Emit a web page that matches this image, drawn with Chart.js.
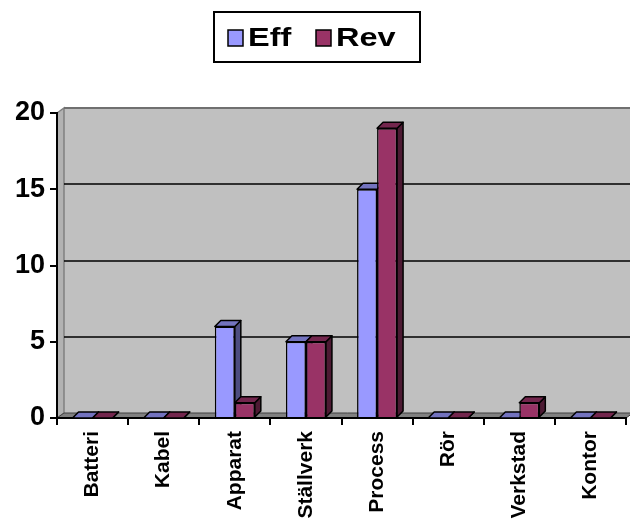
<!DOCTYPE html>
<html>
<head>
<meta charset="utf-8">
<script src="https://cdn.jsdelivr.net/npm/chart.js@4/dist/chart.umd.min.js"></script>
<style>
  html, body { margin: 0; padding: 0; background: #ffffff; }
  #wrap { width: 630px; height: 530px; }
</style>
</head>
<body>
<div id="wrap"><canvas id="chart" width="630" height="530"></canvas></div>
<script>
// Categories and series
const categories = ['Batteri', 'Kabel', 'Apparat', 'Ställverk', 'Process', 'Rör', 'Verkstad', 'Kontor'];
const effValues = [0, 0, 6, 5, 15, 0, 0, 0];
const revValues = [0, 0, 1, 5, 19, 0, 1, 0];
const yTicks = [0, 5, 10, 15, 20];

const FONT = 'Arial, "Liberation Sans", Helvetica, sans-serif';

// Face colours for the pseudo-3D boxes: front, top, side
const palette = [
  { front: '#9999FF', top: '#7373BF', side: '#4D4D80' },
  { front: '#993366', top: '#73264D', side: '#4D1A33' }
];

// Depth of the wall/floor and of the boxes
const WALL_DX = 7, WALL_DY = 5;
const BOX_DX = 6, BOX_DY = 6;

const walls = {
  id: 'walls',
  beforeDraw(chart) {
    const { ctx, chartArea: a } = chart;
    const y = chart.scales.y;
    const y0 = y.getPixelForValue(yTicks[0]);
    const yTop = y.getPixelForValue(yTicks[yTicks.length - 1]);
    ctx.save();
    // back wall
    ctx.fillStyle = '#C0C0C0';
    ctx.fillRect(a.left + WALL_DX, yTop - WALL_DY, a.right - a.left + 20, y0 - yTop);
    // side wall
    ctx.beginPath();
    ctx.moveTo(a.left, yTop);
    ctx.lineTo(a.left + WALL_DX, yTop - WALL_DY);
    ctx.lineTo(a.left + WALL_DX, y0 - WALL_DY);
    ctx.lineTo(a.left, y0);
    ctx.closePath();
    ctx.fillStyle = '#B2B2B2';
    ctx.fill();
    ctx.strokeStyle = '#808080';
    ctx.lineWidth = 1.5;
    ctx.stroke();
    // gridlines on the back wall
    ctx.strokeStyle = '#000000';
    ctx.lineWidth = 1.5;
    yTicks.slice(1, -1).forEach(v => {
      const py = Math.round(y.getPixelForValue(v) - WALL_DY);
      ctx.beginPath();
      ctx.moveTo(a.left + WALL_DX, py);
      ctx.lineTo(chart.width, py);
      ctx.stroke();
    });
    // top edge of the back wall
    ctx.strokeStyle = '#707070';
    ctx.lineWidth = 2;
    ctx.beginPath();
    ctx.moveTo(a.left + WALL_DX, yTop - WALL_DY);
    ctx.lineTo(chart.width, yTop - WALL_DY);
    ctx.stroke();
    // floor
    ctx.beginPath();
    ctx.moveTo(a.left, y0);
    ctx.lineTo(a.right, y0);
    ctx.lineTo(a.right + WALL_DX, y0 - WALL_DY);
    ctx.lineTo(a.left + WALL_DX, y0 - WALL_DY);
    ctx.closePath();
    ctx.fillStyle = '#808080';
    ctx.fill();
    ctx.strokeStyle = '#404040';
    ctx.lineWidth = 1;
    ctx.stroke();
    ctx.restore();
  }
};

// Top and side faces of each bar, drawn before the library paints the front faces
const boxes = {
  id: 'boxes',
  beforeDatasetsDraw(chart) {
    const ctx = chart.ctx;
    ctx.save();
    ctx.lineWidth = 1.5;
    ctx.strokeStyle = '#000000';
    ctx.lineJoin = 'round';
    const metas = chart.data.datasets.map((_, d) => chart.getDatasetMeta(d));
    for (let i = 0; i < categories.length; i++) {
      metas.forEach((meta, d) => {
        const el = meta.data[i];
        if (!el) return;
        const p = el.getProps(['x', 'y', 'base', 'width'], true);
        const l = p.x - p.width / 2, r = p.x + p.width / 2;
        const t = p.y, b = p.base;
        const col = palette[d];
        // side
        ctx.beginPath();
        ctx.moveTo(r, t);
        ctx.lineTo(r + BOX_DX, t - BOX_DY);
        ctx.lineTo(r + BOX_DX, b - BOX_DY);
        ctx.lineTo(r, b);
        ctx.closePath();
        ctx.fillStyle = col.side;
        ctx.fill();
        ctx.stroke();
        // top
        ctx.beginPath();
        ctx.moveTo(l, t);
        ctx.lineTo(l + BOX_DX, t - BOX_DY);
        ctx.lineTo(r + BOX_DX, t - BOX_DY);
        ctx.lineTo(r, t);
        ctx.closePath();
        ctx.fillStyle = col.top;
        ctx.fill();
        ctx.stroke();
      });
    }
    ctx.restore();
  }
};

// Boxed legend above the plot (text widened like the axis type)
const boxedLegend = {
  id: 'boxedLegend',
  afterDraw(chart) {
    const ctx = chart.ctx;
    ctx.save();
    ctx.fillStyle = '#ffffff';
    ctx.fillRect(214, 12, 206, 50);
    ctx.strokeStyle = '#000000';
    ctx.lineWidth = 2;
    ctx.strokeRect(214, 12, 206, 50);
    const items = [{ x: 228, tx: 248 }, { x: 316, tx: 336 }];
    ctx.font = 'bold 26px ' + FONT;
    ctx.textBaseline = 'middle';
    chart.data.datasets.forEach((ds, d) => {
      const it = items[d];
      ctx.fillStyle = ds.backgroundColor;
      ctx.fillRect(it.x, 30, 15, 16);
      ctx.lineWidth = 1.5;
      ctx.strokeRect(it.x, 30, 15, 16);
      ctx.fillStyle = '#000000';
      ctx.save();
      ctx.translate(it.tx, 39);
      ctx.scale(1.25, 1);
      ctx.fillText(ds.label, 0, 0);
      ctx.restore();
    });
    ctx.restore();
  }
};

new Chart(document.getElementById('chart'), {
  type: 'bar',
  data: {
    labels: categories,
    datasets: [
      { label: 'Eff', data: effValues, backgroundColor: palette[0].front, borderColor: '#000000', borderWidth: 1.5 },
      { label: 'Rev', data: revValues, backgroundColor: palette[1].front, borderColor: '#000000', borderWidth: 1.5 }
    ]
  },
  options: {
    responsive: false,
    animation: false,
    events: [],
    layout: { padding: { top: 113, right: 4, bottom: 0, left: 0 } },
    datasets: { bar: { categoryPercentage: 0.5625, barPercentage: 1.0 } },
    plugins: {
      legend: { display: false },
      tooltip: { enabled: false }
    },
    scales: {
      x: {
        offset: true,
        grid: { offset: true, drawOnChartArea: false, drawTicks: true, tickLength: 7, color: '#000000', lineWidth: 2 },
        border: { color: '#000000', width: 2 },
        ticks: {
          autoSkip: false, minRotation: 90, maxRotation: 90, padding: 6,
          color: '#000000', font: { family: FONT, size: 21, weight: 'bold' }
        },
        afterFit(s) { s.height = 112; }
      },
      y: {
        min: 0, max: 20,
        afterBuildTicks(s) { s.ticks = yTicks.map(v => ({ value: v })); },
        grid: { drawOnChartArea: false, drawTicks: true, tickLength: 7, color: '#000000', lineWidth: 2 },
        border: { color: '#000000', width: 2 },
        ticks: { padding: 5, color: '#000000', font: { family: FONT, size: 27, weight: 'bold' } },
        afterFit(s) { s.width = 57; }
      }
    }
  },
  plugins: [walls, boxes, boxedLegend]
});
</script>
</body>
</html>
